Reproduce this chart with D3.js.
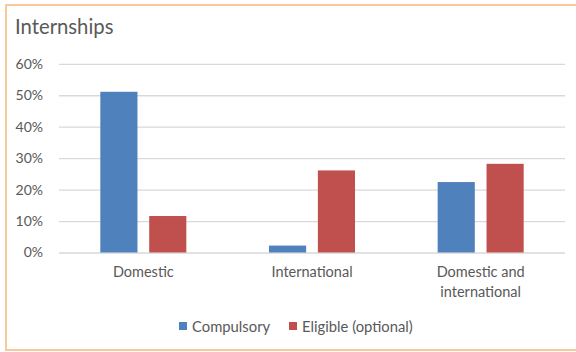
<!DOCTYPE html>
<html>
<head>
<meta charset="utf-8">
<script src="https://cdn.jsdelivr.net/npm/d3@7"></script>
<style>
  html, body { margin: 0; padding: 0; background: #fff; }
  svg { display: block; }
  text { font-family: Lato, "Open Sans", sans-serif; fill: #595959; }
</style>
</head>
<body>
<svg id="chart" width="576" height="352"></svg>
<script>
// Internship types by participation mode
const categories = [["Domestic"], ["International"], ["Domestic and", "international"]];
const seriesNames = ["Compulsory", "Eligible (optional)"];
const compulsory = [0.511, 0.022, 0.224];
const eligible = [0.116, 0.261, 0.282];
const yTicks = [0, 0.1, 0.2, 0.3, 0.4, 0.5, 0.6];
const colors = ["#4F81BD", "#C0504D"];

const svg = d3.select("#chart");
const plotLeft = 59, plotRight = 565;
const plotBottom = 252.5, plotTop = 63.8;

// outer frame
svg.append("rect")
  .attr("x", 6).attr("y", 5)
  .attr("width", 580).attr("height", 345)
  .attr("fill", "none")
  .attr("stroke", "#F9C89B")
  .attr("stroke-width", 2);

svg.append("text")
  .attr("x", 15).attr("y", 33.5)
  .attr("font-size", 20.3)
  .text("Internships");

const x0 = d3.scaleBand()
  .domain(d3.range(categories.length))
  .range([plotLeft, plotRight])
  .paddingInner(0.49).paddingOuter(0.245);

const x1 = d3.scaleBand()
  .domain(d3.range(seriesNames.length))
  .range([0, x0.bandwidth()])
  .paddingInner(0.24);

const y = d3.scaleLinear().domain([0, 0.6]).range([plotBottom, plotTop]);

// gridlines and percentage ticks
const yAxis = d3.axisLeft(y)
  .tickValues(yTicks)
  .tickFormat(d3.format(".0%"))
  .tickSize(-(plotRight - plotLeft))
  .tickPadding(16);

const gy = svg.append("g")
  .attr("transform", `translate(${plotLeft},0)`)
  .call(yAxis);
gy.select(".domain").remove();
gy.selectAll(".tick line").attr("stroke", "#D9D9D9").attr("stroke-width", 1.3);
gy.selectAll(".tick text")
  .attr("font-size", 14)
  .attr("fill", "#595959")
  .attr("font-family", "Lato, 'Open Sans', sans-serif");

// bars
const data = categories.map((c, i) => [compulsory[i], eligible[i]]);
const groups = svg.append("g").selectAll("g")
  .data(data)
  .join("g")
  .attr("transform", (d, i) => `translate(${x0(i)},0)`);

groups.selectAll("rect")
  .data(d => d)
  .join("rect")
  .attr("x", (d, j) => x1(j))
  .attr("width", x1.bandwidth())
  .attr("y", d => y(d))
  .attr("height", d => plotBottom - y(d))
  .attr("fill", (d, j) => colors[j]);

// category labels
const xl = svg.append("g").selectAll("text")
  .data(categories)
  .join("text")
  .attr("text-anchor", "middle")
  .attr("font-size", 14.5)
  .attr("x", (d, i) => x0(i) + x0.bandwidth() / 2)
  .attr("y", 277);
xl.selectAll("tspan")
  .data(d => d)
  .join("tspan")
  .attr("x", function () { return d3.select(this.parentNode).attr("x"); })
  .attr("dy", (d, k) => k === 0 ? 0 : 20)
  .text(d => d);

// legend
const legendX = [179, 289];
const lg = svg.append("g").selectAll("g")
  .data(seriesNames)
  .join("g")
  .attr("transform", (d, i) => `translate(${legendX[i]},322)`);
lg.append("rect").attr("width", 8).attr("height", 8).attr("fill", (d, i) => colors[i]);
lg.append("text").attr("x", 13).attr("y", 9.5).attr("font-size", 14.8).text(d => d);
</script>
</body>
</html>
